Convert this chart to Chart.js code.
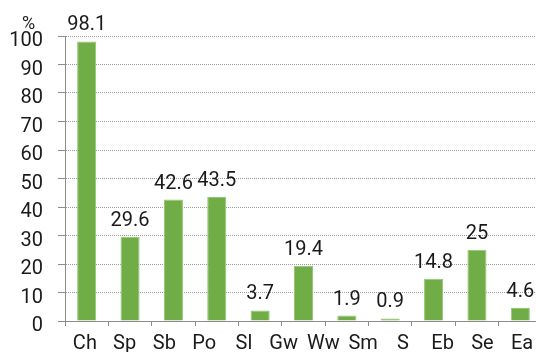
<!DOCTYPE html>
<html>
<head>
<meta charset="utf-8">
<script src="https://cdn.jsdelivr.net/npm/chart.js@4"></script>
<style>
  html, body { margin: 0; padding: 0; overflow: hidden; background: #fff; width: 536px; height: 352px; }
  canvas { display: block; }
</style>
</head>
<body>
<canvas id="c" width="544" height="354"></canvas>
<script>
// Bar slots and their values (percent)
const categories = ['Ch', 'Sp', 'Sb', 'Po', 'Sl', 'Gw', 'Ww', 'Sm', 'S Eb', 'Se', 'Ea'];
const shares = [98.1, 29.6, 42.6, 43.5, 3.7, 19.4, 1.9, 0.9, 14.8, 25, 4.6];
// Label row printed under the axis
const tickLabels = ['Ch', 'Sp', 'Sb', 'Po', 'Sl', 'Gw', 'Ww', 'Sm', 'S', 'Eb', 'Se', 'Ea'];
const yMin = 0, yMax = 100, yStep = 10;
const unitLabel = '%';

const FONT = 'Roboto';
const INK = '#1a1a1a';
const AXIS = '#8c8c8c';

// Value printed above each bar
const valueLabels = {
  id: 'valueLabels',
  afterDatasetsDraw(chart) {
    const ctx = chart.ctx;
    const meta = chart.getDatasetMeta(0);
    ctx.save();
    ctx.font = '20px ' + FONT;
    ctx.fillStyle = INK;
    ctx.textAlign = 'center';
    ctx.textBaseline = 'alphabetic';
    meta.data.forEach((bar, i) => {
      ctx.fillText(String(shares[i]), bar.x, bar.y - 11);
    });
    ctx.restore();
  }
};

// Unit caption above the value axis
const unitCaption = {
  id: 'unitCaption',
  afterDraw(chart) {
    const { ctx, chartArea } = chart;
    ctx.save();
    ctx.font = '18px ' + FONT;
    ctx.fillStyle = INK;
    ctx.textAlign = 'center';
    ctx.textBaseline = 'middle';
    ctx.fillText(unitLabel, chartArea.left - 36.5, chartArea.top - 12);
    ctx.restore();
  }
};

Chart.defaults.font.family = FONT;

new Chart(document.getElementById('c'), {
  type: 'bar',
  data: {
    labels: categories,
    datasets: [{
      data: shares,
      backgroundColor: '#70ad47',
      borderColor: '#93c572',
      borderWidth: 1,
      categoryPercentage: 1,
      barPercentage: 0.44
    }]
  },
  options: {
    responsive: false,
    animation: false,
    events: [],
    layout: { padding: { left: 0, right: 2, top: 36, bottom: 0 } },
    plugins: {
      legend: { display: false },
      tooltip: { enabled: false }
    },
    scales: {
      x: {
        type: 'category',
        position: 'bottom',
        weight: 0,
        offset: true,
        grid: {
          display: true,
          offset: true,
          drawOnChartArea: false,
          drawTicks: true,
          tickLength: 5,
          tickColor: AXIS,
          tickWidth: 1
        },
        border: { display: true, color: AXIS, width: 1 },
        ticks: { display: false },
        afterFit(scale) { scale.height = 5; }
      },
      xl: {
        type: 'category',
        position: 'bottom',
        weight: 1,
        labels: tickLabels,
        offset: true,
        grid: { display: false, drawTicks: false },
        border: { display: false },
        ticks: {
          padding: 6,
          autoSkip: false,
          maxRotation: 0,
          color: INK,
          font: { size: 20, family: FONT }
        },
        afterFit(scale) { scale.height = 28; }
      },
      y: {
        min: yMin,
        max: yMax,
        grid: {
          color: '#9a9a9a',
          lineWidth: 1,
          drawTicks: true,
          tickLength: 7,
          tickColor: AXIS,
          tickBorderDash: []
        },
        border: { display: true, color: AXIS, width: 1, dash: [1, 1] },
        ticks: {
          stepSize: yStep,
          padding: 15,
          labelOffset: 5,
          color: INK,
          font: { size: 20, family: FONT }
        },
        afterFit(scale) { scale.width = 65; }
      }
    }
  },
  plugins: [valueLabels, unitCaption]
});
</script>
</body>
</html>
